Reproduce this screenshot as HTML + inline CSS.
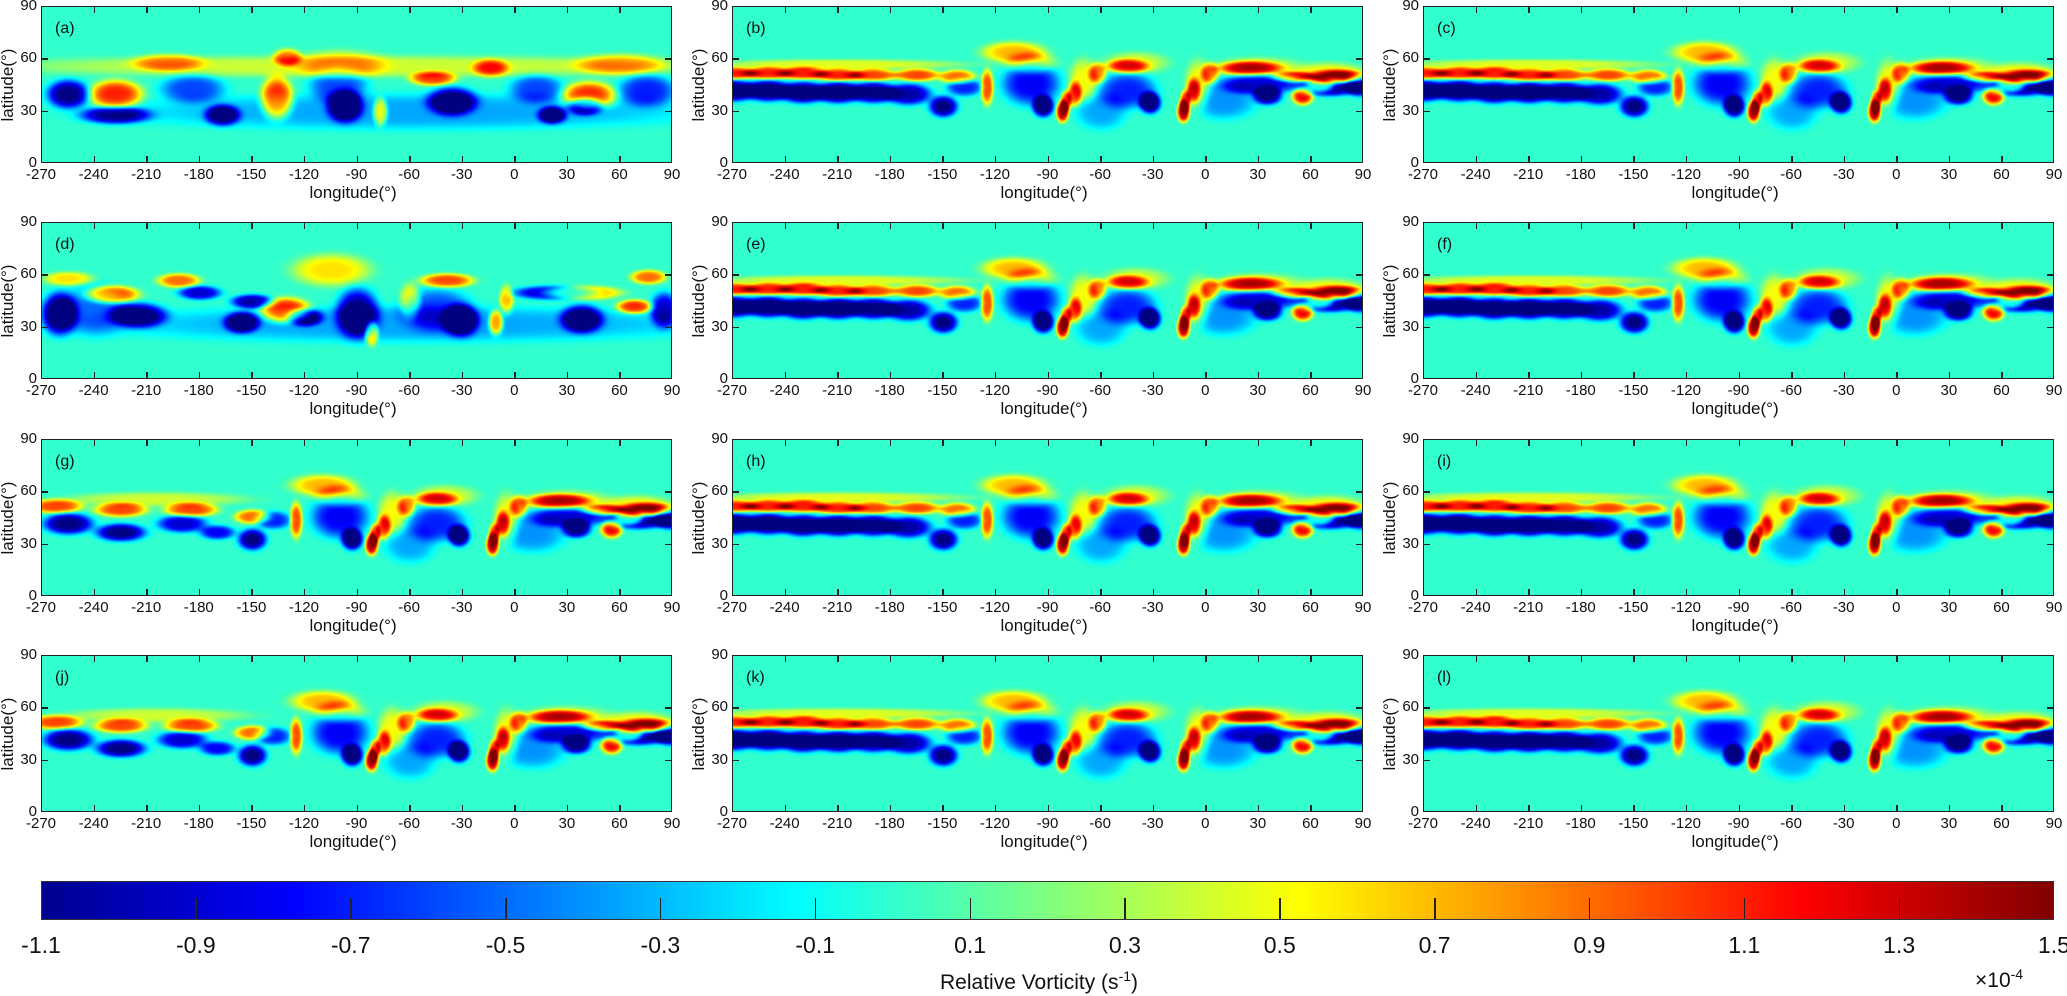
<!DOCTYPE html>
<html><head><meta charset="utf-8">
<style>
html,body{margin:0;padding:0;background:#fff;}
body{width:2067px;height:996px;position:relative;overflow:hidden;font-family:"Liberation Sans",Arial,sans-serif;color:#111;}
.ax{position:absolute;border:1.5px solid #222;box-sizing:border-box;overflow:hidden;}
.ax canvas{position:absolute;left:0;top:0;}
.tk{position:absolute;background:#222;}
.lbl{position:absolute;font-size:15px;white-space:nowrap;}
.plabel{position:absolute;font-size:16px;}
.ytitle{position:absolute;font-size:17px;transform:rotate(-90deg);transform-origin:center;white-space:nowrap;}
.xtitle{position:absolute;font-size:17px;white-space:nowrap;}
</style></head>
<body>
<div id="fig"></div>
<div id="cbar" style="position:absolute;left:41px;top:881px;width:2013px;height:39px;border:1.5px solid #333;box-sizing:border-box;background:linear-gradient(to right,#00008f 0%,#0000ff 12.5%,#00ffff 37.5%,#ffff00 62.5%,#ff0000 87.5%,#800000 100%);"></div>
<div style="position:absolute;left:940px;top:968px;font-size:21px;white-space:nowrap;">Relative Vorticity (s<sup style="font-size:14px">-1</sup>)</div>
<div style="position:absolute;left:1975px;top:966px;font-size:21px;white-space:nowrap;">×10<sup style="font-size:14px">-4</sup></div>
<script>
// ---------- panel layout ----------
const colLeft=[41,732,1423], rowTop=[6,222,439,655], W=631, H=157;
const panelNames=['a','b','c','d','e','f','g','h','i','j','k','l'];
const panelSet=['A','B','B','D','B','B','G','B','B','G','B','B'];
const xTicks=[-270,-240,-210,-180,-150,-120,-90,-60,-30,0,30,60,90];
const yTicks=[0,30,60,90];
const cbTicks=[-1.1,-0.9,-0.7,-0.5,-0.3,-0.1,0.1,0.3,0.5,0.7,0.9,1.1,1.3,1.5];
const vmin=-1.1, vmax=1.5;

// ---------- right part shared by B and G ----------
const R_lon=[-150,-138,-100,-93,-45,-32,-60,10,30,35,70,88,-125,-110,-82,-75,-62,-45,-13,-7,2,25,50,55,75,-100,-70,-40,-5,30,70,-80,-12,65];
const R_lat=[33,44,46,33,42,35,30,36,46,39,44,45,44,64,30,40,52,56,30,42,52,55,50,39,50,58,48,58,45,55,52,36,36,45];
const R_amp=[-1.1,-0.7,-0.8,-1.2,-0.7,-1.2,-0.35,-0.4,-0.9,-1.1,-1.1,-1.1,1.0,0.7,1.4,0.9,0.8,0.9,1.4,0.9,0.8,1.0,0.9,1.2,1.1,0.5,0.5,0.4,0.5,0.4,0.5,1.0,1.0,1.0];
const R_wlon=[8,10,16,6,16,6,14,18,22,8,18,8,3.5,18,3.5,4,5,12,3.5,4,5,18,12,6,16,14,8,18,7,25,20,3,3,8];
const R_wlat=[6,5,12,6,10,6,10,10,6,5,5,6,10,6,6,7,6,4,6,7,6,4,3,5,4,6,12,6,14,6,6,6,6,4];
// left part of B (straight jet)
const BL_lon=[-270,-250,-230,-210,-190,-170,-270,-250,-230,-210,-190,-165,-142,-210];
const BL_lat=[42,42,41,41,41,40,52,52,52,51,51,51,50,57];
const BL_amp=[-1.2,-1.2,-1.2,-1.2,-1.1,-1.0,1.1,1.1,1.1,1.1,1.0,1.0,0.9,0.45];
const BL_wlon=[13,13,13,13,13,13,13,13,13,13,13,13,10,70];
const BL_wlat=[6,6,6,6,6,6,3.5,3.5,3.5,3.5,3.5,3.5,4,3];
// left part of G (meandering jet)
const GL_lon=[-255,-225,-190,-170,-262,-225,-185,-150,-205];
const GL_lat=[42,37,42,37,52,50,50,46,56];
const GL_amp=[-1.1,-1.1,-0.9,-0.8,1.0,1.0,1.0,0.9,0.4];
const GL_wlon=[14,14,14,10,15,15,15,10,50];
const GL_wlat=[6,5,5,4,4,4,4,4,4];
// panel (a)
const A_lon=[-228,-136,-47,42,-14,-130,-77,-198,-100,60,-255,-228,-167,-184,-97,-101,-36,21,12,40,75,-60,-90];
const A_lat=[40,38,49,39,55,61,30,58,57,57,40,28,28,43,33,45,36,28,43,33,42,30,56];
const A_amp=[1.1,1.1,1.0,1.1,0.8,0.8,0.8,0.6,0.5,0.6,-1.1,-1.0,-1.0,-0.6,-1.1,-0.6,-1.1,-1.0,-0.6,-1.0,-0.7,-0.35,0.4];
const A_wlon=[15,9,13,15,10,8,4,20,25,25,12,20,10,18,10,16,14,8,15,10,16,160,200];
const A_wlat=[8,12,4,8,5,5,8,5,8,6,8,5,6,8,9,10,8,5,8,5,9,10,6];
// panel (d)
const D_lon=[-230,-192,-131,-105,-82,-60,-39,-11,-5,37,68,76,-255,-260,-215,-180,-150,-120,-156,-90,-31,-45,25,38,85,-60,-240];
const D_lat=[49,57,40,63,27,45,57,33,46,50,42,59,58,38,37,50,45,36,33,38,34,40,50,35,40,32,40];
const D_amp=[1.1,0.9,1.2,0.6,0.9,0.6,1.0,1.1,0.7,1.1,1.1,0.9,0.6,-1.2,-1.1,-0.9,-1.0,-1.0,-1.1,-1.1,-1.1,-0.6,-1.1,-1.1,-0.9,-0.35,-0.5];
const D_wlon=[15,12,14,22,4,6,15,4,4,22,10,10,14,10,16,12,12,10,10,12,10,20,25,12,8,170,20];
const D_wlat=[5,4,7,9,7,10,4,7,8,4,4,4,4,12,7,4,4,5,6,14,9,12,4,8,10,10,14];

const SETS={
  A:{lon:A_lon,lat:A_lat,amp:A_amp,wl:A_wlon,wt:A_wlat},
  D:{lon:D_lon,lat:D_lat,amp:D_amp,wl:D_wlon,wt:D_wlat},
  B:{lon:BL_lon.concat(R_lon),lat:BL_lat.concat(R_lat),amp:BL_amp.concat(R_amp),wl:BL_wlon.concat(R_wlon),wt:BL_wlat.concat(R_wlat)},
  G:{lon:GL_lon.concat(R_lon),lat:GL_lat.concat(R_lat),amp:GL_amp.concat(R_amp),wl:GL_wlon.concat(R_wlon),wt:GL_wlat.concat(R_wlat)}
};

function xScale(lon){return (lon+270)/360*W;}
function yScale(lat){return (90-lat)/90*H;}
function cbScale(v){return (v-vmin)/(vmax-vmin)*2013;}
function jet(t){
  const c=x=>Math.max(0,Math.min(1,x));
  return [c(1.5-Math.abs(4*t-3))*255,c(1.5-Math.abs(4*t-2))*255,c(1.5-Math.abs(4*t-1))*255];
}
function drawField(cv,set){
  const ctx=cv.getContext('2d');
  const img=ctx.createImageData(W,H);
  const n=set.lon.length;
  for(let py=0;py<H;py++){
    const lat=90-(py+0.5)/H*90;
    for(let px=0;px<W;px++){
      const lon=-270+(px+0.5)/W*360;
      let v=0;
      for(let k=0;k<n;k++){
        const dx=(lon-set.lon[k])/set.wl[k], dy=(lat-set.lat[k])/set.wt[k];
        const e=dx*dx+dy*dy;
        if(e<4) v+=set.amp[k]*Math.exp(-e*e);
      }
      v=Math.max(vmin,Math.min(vmax,v));
      const rgb=jet((v-vmin)/(vmax-vmin));
      const i=(py*W+px)*4;
      img.data[i]=rgb[0];img.data[i+1]=rgb[1];img.data[i+2]=rgb[2];img.data[i+3]=255;
    }
  }
  ctx.putImageData(img,0,0);
}
const fig=document.getElementById('fig');
function mk(tag,cls,parent){const e=document.createElement(tag);if(cls)e.className=cls;(parent||fig).appendChild(e);return e;}

panelNames.forEach((nm,idx)=>{
  const r=Math.floor(idx/3), c=idx%3;
  const L=colLeft[c], T=rowTop[r];
  const ax=mk('div','ax');
  
  
  ax.style.left=L+'px';ax.style.top=T+'px';ax.style.width=W+'px';ax.style.height=H+'px';
  const cv=mk('canvas',null,ax);cv.width=W;cv.height=H;
  
  
  drawField(cv,SETS[panelSet[idx]]);
  const pl=mk('div','plabel',ax);
  
  
  pl.textContent='('+nm+')';pl.style.left='13px';pl.style.top='13px';
  xTicks.forEach(t=>{
    const x=xScale(t);
    if(t>-270&&t<90){
      ['b','t'].forEach(s=>{const k=mk('div','tk',ax);
        
        
        k.style.left=(x-1)+'px';k.style.width='1.5px';k.style.height='6px';k.style[s==='b'?'bottom':'top']='0px';});
    }
    const lb=mk('div','lbl');
    
    
    lb.textContent=t;lb.style.left=(L+x-20)+'px';lb.style.width='40px';lb.style.textAlign='center';lb.style.top=(T+H+3)+'px';
  });
  yTicks.forEach(t=>{
    const y=yScale(t);
    if(t>0&&t<90){
      ['l','r'].forEach(s=>{const k=mk('div','tk',ax);
        
        
        k.style.top=(y-1)+'px';k.style.height='1.5px';k.style.width='6px';k.style[s==='l'?'left':'right']='0px';});
    }
    const lb=mk('div','lbl');
    
    
    lb.textContent=t;lb.style.left=(L-44)+'px';lb.style.width='40px';lb.style.textAlign='right';lb.style.top=(T+y-9)+'px';
  });
  const xt=mk('div','xtitle');
  
  
  xt.textContent='longitude(°)';xt.style.left=(L+W/2-47)+'px';xt.style.top=(T+H+20)+'px';
  const yt=mk('div','ytitle');
  
  
  yt.textContent='latitude(°)';yt.style.width='90px';yt.style.textAlign='center';
  yt.style.left=(L-33-45)+'px';yt.style.top=(T+H/2-10)+'px';
});

const cb=document.getElementById('cbar');
cbTicks.forEach((t,i)=>{
  const x=cbScale(t);
  if(i>0&&i<cbTicks.length-1){
    const k=mk('div','tk',cb);
    
    
    k.style.left=(x-1.5)+'px';k.style.width='1.5px';k.style.height='21px';k.style.bottom='0px';
  }
  const lb=mk('div',null,document.body);
  
  
  lb.textContent=t.toFixed(1);
  lb.style.cssText='position:absolute;font-size:23px;width:60px;text-align:center;top:932px;left:'+(41+x-30)+'px;';
});
</script>
</body></html>
